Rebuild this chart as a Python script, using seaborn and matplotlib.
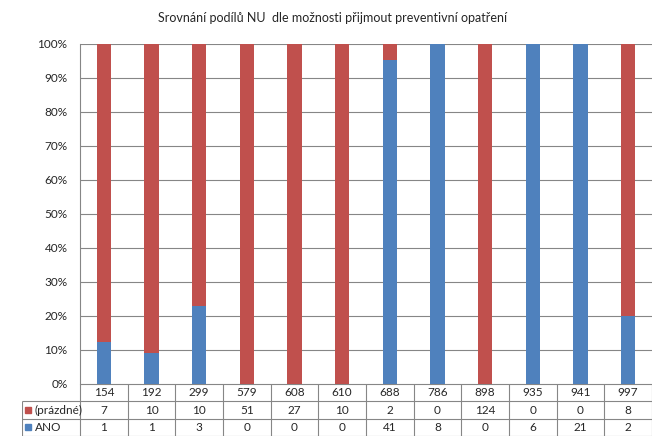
import numpy as np
import pandas as pd
import seaborn as sns
import matplotlib.pyplot as plt
from matplotlib.ticker import PercentFormatter


categories  = ['154', '192', '299', '579', '608', '610', '688', '786', '898', '935', '941', '997']
prazdne     = [7, 10, 10, 51, 27, 10, 2, 0, 124, 0, 0, 8]
ano         = [1, 1, 3, 0, 0, 0, 41, 8, 0, 6, 21, 2]
series_names = ['(prázdné)', 'ANO']
title = 'Srovnání podílů NU  dle možnosti přijmout preventivní opatření'

RED   = '#C0504D'
BLUE  = '#4F81BD'
GRID  = '#868686'
W, H  = 667, 442


df = pd.DataFrame({'cat': categories, 'prazdne': prazdne, 'ano': ano})
df['total'] = df['prazdne'] + df['ano']
df['full'] = 100.0
df['ano_pct'] = df['ano'] / df['total'] * 100


sns.set_style('white')
plt.rcParams['font.family'] = ['Lato', 'DejaVu Sans']

fig = plt.figure(figsize=(W / 100, H / 100), dpi=100)

'''
Stacked 100 % columns
'''
ax = fig.add_axes([80 / W, 1 - 384 / H, (652 - 80) / W, (384 - 44) / H])
sns.barplot(data=df, x='cat', y='full', color=RED, width=0.3, saturation=1,
            linewidth=0, ax=ax)
sns.barplot(data=df, x='cat', y='ano_pct', color=BLUE, width=0.3, saturation=1,
            linewidth=0, ax=ax)

ax.set_xlim(-0.5, len(categories) - 0.5)
ax.set_ylim(0, 100)
ax.set_yticks(np.arange(0, 101, 10))
ax.yaxis.set_major_formatter(PercentFormatter(decimals=0))
ax.tick_params(axis='y', length=0, pad=9, labelsize=8.5)
ax.set_xticks([])
ax.set_xlabel('')
ax.set_ylabel('')
ax.yaxis.grid(True, color=GRID, lw=0.8)
ax.set_axisbelow(True)
for side in ['top', 'right', 'bottom']:
    ax.spines[side].set_visible(False)
ax.spines['left'].set_color(GRID)
ax.spines['left'].set_linewidth(0.8)

fig.text(333 / W, 1 - 18 / H, title, ha='center', va='center', fontsize=9)

'''
Data table below the plot
'''
n = len(categories)
x_left = -0.5 - 58 / ((652 - 80) / n)
tab = fig.add_axes([22 / W, 1 - 436 / H, (652 - 22) / W, (436 - 384) / H])
tab.set_xlim(x_left, n - 0.5)
tab.set_ylim(3, 0)
tab.axis('off')

lw = 0.8
tab.hlines(0, -0.5, n - 0.5, color=GRID, lw=lw)
tab.hlines([1, 2, 3], x_left, n - 0.5, color=GRID, lw=lw)
tab.vlines(np.arange(n + 1) - 0.5, 0, 3, color=GRID, lw=lw)
tab.vlines(x_left, 1, 3, color=GRID, lw=lw)

for i, c in enumerate(categories):
    tab.text(i, 0.5, c, ha='center', va='center', fontsize=8.5)
    tab.text(i, 1.5, str(prazdne[i]), ha='center', va='center', fontsize=8.5)
    tab.text(i, 2.5, str(ano[i]), ha='center', va='center', fontsize=8.5)

for row, (name, col) in enumerate(zip(series_names, [RED, BLUE])):
    y = row + 1.5
    tab.plot(x_left + 0.13, y, marker='s', ms=4.5, color=col, ls='none')
    tab.text(x_left + 0.27, y, name, ha='left', va='center', fontsize=8.5)

fig.savefig('out.png', dpi=100)
